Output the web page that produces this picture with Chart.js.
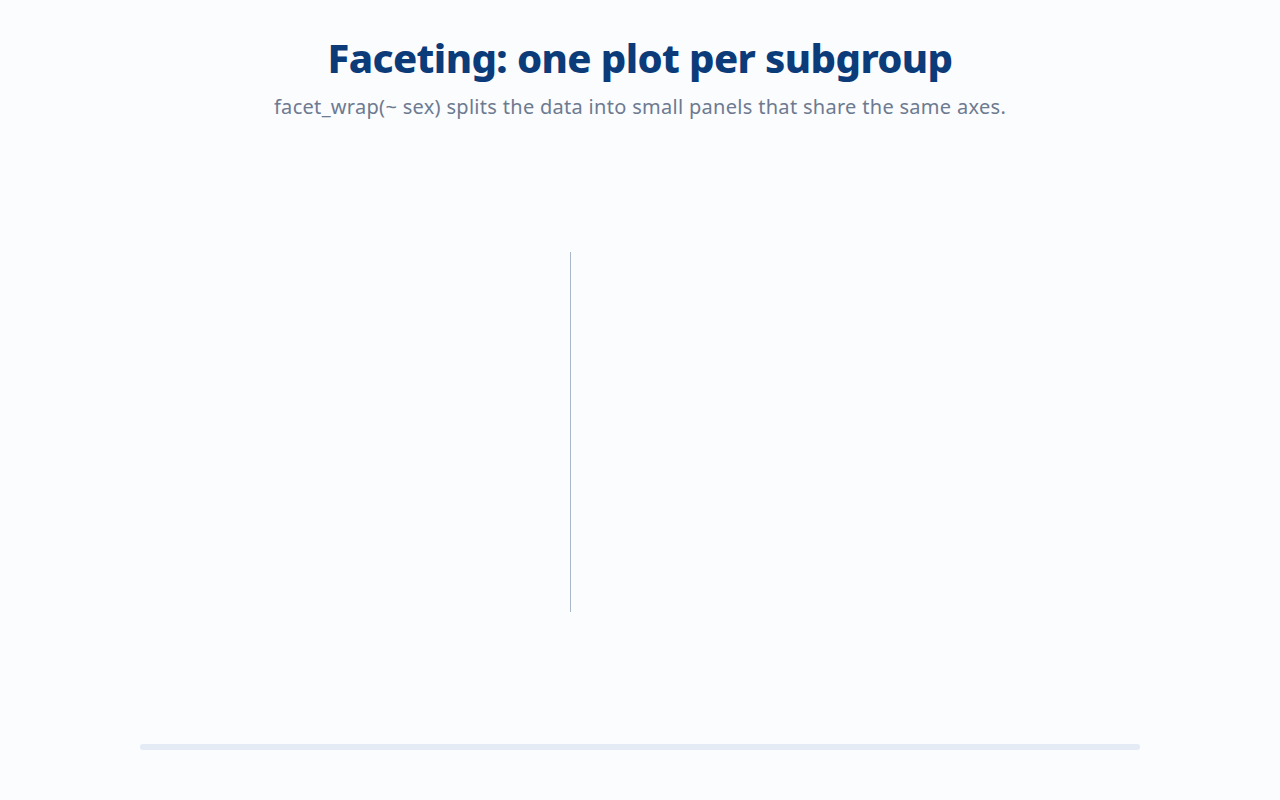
<!DOCTYPE html>
<html lang="en">
<head>
    <meta charset="UTF-8">
    <meta name="viewport" content="width=device-width, initial-scale=1.0">
    <title>Faceting</title>
    <style>
        html, body {
            margin: 0;
            padding: 0;
            background-color: #fafcfe;
            font-family: "Noto Sans", "Open Sans", sans-serif;
        }
        .page {
            width: 1280px;
            height: 800px;
            position: relative;
        }
        h1 {
            position: absolute;
            top: 30px;
            left: 0;
            width: 100%;
            margin: 0;
            text-align: center;
            font-size: 40px;
            font-weight: 800;
            color: #0c3b7a;
            letter-spacing: -0.6px;
        }
        .subtitle {
            position: absolute;
            top: 93px;
            left: 0;
            width: 100%;
            margin: 0;
            text-align: center;
            font-size: 20px;
            letter-spacing: 0.3px;
            color: #6d7a90;
        }
        .facets {
            position: absolute;
            top: 252px;
            left: 140px;
            width: 1000px;
            height: 360px;
        }
        .panel {
            position: absolute;
            top: 0;
            height: 360px;
        }
        #panel-left { left: 0; width: 430px; }
        #panel-right { left: 430px; width: 570px; }
        .track {
            position: absolute;
            top: 744px;
            left: 140px;
            width: 1000px;
            height: 6px;
            border-radius: 3px;
            background-color: #e4ebf4;
        }
    </style>
</head>
<body>
    <div class="page">
        <h1>Faceting: one plot per subgroup</h1>
        <p class="subtitle">facet_wrap(~ sex) splits the data into small panels that share the same axes.</p>
        <div class="facets">
            <div class="panel" id="panel-left"><canvas id="chart-female"></canvas></div>
            <div class="panel" id="panel-right"><canvas id="chart-male"></canvas></div>
        </div>
        <div class="track"></div>
    </div>

    <script src="https://cdn.jsdelivr.net/npm/chart.js"></script>
    <script>
        // facets (one panel per sex); no points are visible in the picture
        const facets = ['female', 'male'];
        const femalePoints = [];
        const malePoints = [];

        function drawPanel(id, label, points, showAxis) {
            const ctx = document.getElementById(id).getContext('2d');
            return new Chart(ctx, {
                type: 'scatter',
                data: {
                    datasets: [{
                        label: label,
                        data: points,
                        backgroundColor: 'rgba(12, 59, 122, 0.6)'
                    }]
                },
                options: {
                    responsive: true,
                    maintainAspectRatio: false,
                    animation: false,
                    layout: { padding: 0 },
                    plugins: {
                        legend: { display: false },
                        title: { display: false },
                        tooltip: { enabled: false }
                    },
                    scales: {
                        x: {
                            display: false
                        },
                        y: {
                            display: showAxis,
                            grid: { display: false, drawTicks: false },
                            ticks: { display: false },
                            border: { display: true, color: '#a9b7c6', width: 2 }
                        }
                    }
                }
            });
        }

        drawPanel('chart-female', facets[0], femalePoints, false);
        drawPanel('chart-male', facets[1], malePoints, true);
    </script>
</body>
</html>
